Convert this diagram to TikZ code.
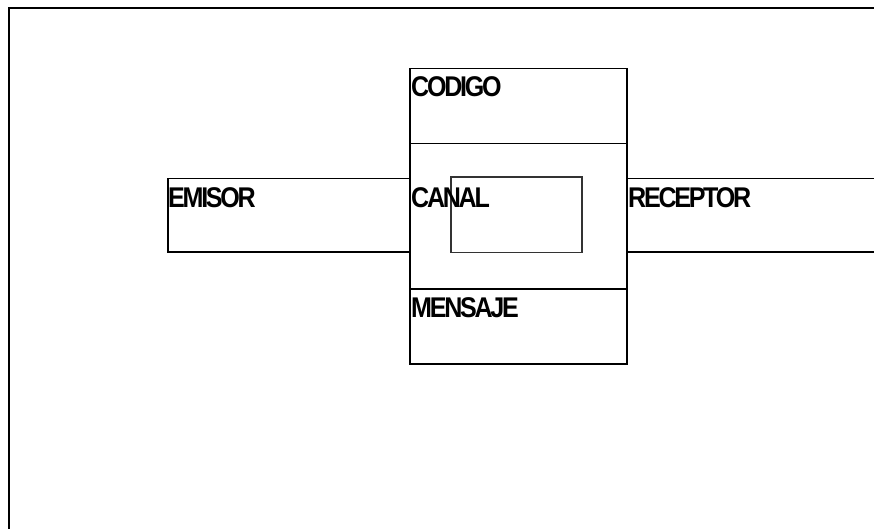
\documentclass[tikz,border=0pt]{standalone}
\usepackage{fontspec}
\setmainfont{Liberation Sans}
\newfontfamily\lblfont[LetterSpace=-8, FakeStretch=0.88]{Liberation Sans}
\usetikzlibrary{positioning}

\tikzset{
    box/.style={draw, line width=1.5pt, inner sep=0pt, anchor=north west},
    lbl/.style={anchor=base west, inner sep=0pt, font=\lblfont\bfseries\fontsize{28.5}{32}\selectfont}
}

\begin{document}
\begin{tikzpicture}[x=1pt, y=-1pt]
    \clip (0,0) rectangle (874,529);

    % outer frame, runs past the right and bottom edges
    \draw[line width=2pt] (9,560) -- (9,8) -- (900,8);

    % centre column
    \node[box, minimum width=217pt, minimum height=75pt] (codigo) at (409,68) {};
    \node[box, minimum width=217pt, minimum height=145pt] (canal) at (409,143) {};
    \node[box, minimum width=217pt, minimum height=75pt] (mensaje) at (409,288) {};

    % side boxes
    \node[box, minimum width=242pt, minimum height=73pt] (emisor) at (167,178) {};
    \node[box, minimum width=270pt, minimum height=73pt] (receptor) at (626,178) {};

    % inner box in CANAL
    \node[box, draw=black!80, minimum width=131pt, minimum height=75pt] (inner) at (450,176.5) {};

    % labels
    \node[lbl] (tcodigo) at (411,96.5) {CODIGO};
    \node[lbl] (tcanal) at (411,207.5) {CANAL};
    \node[lbl] (tmensaje) at (411,317) {MENSAJE};
    \node[lbl] (temisor) at (168,207.5) {EMISOR};
    \node[lbl] (treceptor) at (628,207.5) {RECEPTOR};
\end{tikzpicture}
\end{document}
